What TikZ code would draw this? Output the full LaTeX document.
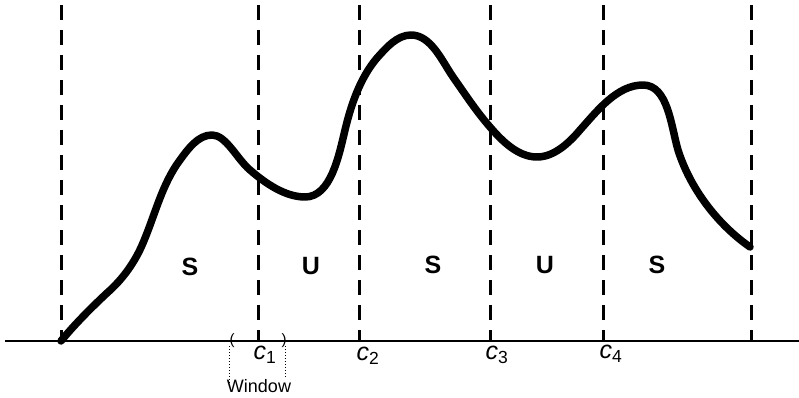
\documentclass[tikz,border=0pt]{standalone}
\usepackage{fontspec}
\setmainfont{Liberation Sans}
\begin{document}
\begin{tikzpicture}[x=1pt,y=-1pt,
  divider/.style={line width=3pt,dash pattern=on 15pt off 10pt},
  curve/.style={line width=7.5pt,line cap=round,line join=round},
  seg/.style={font=\fontsize{25}{25}\selectfont\bfseries},
  cut/.style={font=\fontsize{25}{25}\selectfont},
  winline/.style={line width=1pt,dotted}]
\useasboundingbox (0,0) rectangle (799,398);
\coordinate (a0) at (5,341);
\coordinate (a1) at (799,341);
\draw[line width=1.6pt] (a0) -- (a1);
\foreach \x/\n in {61/d0,258/d1,359/d2,490/d3,603/d4,751/d5}{
  \coordinate (\n t) at (\x,5);
  \coordinate (\n b) at (\x,341);
  \draw[divider] (\n t) -- (\n b);
}
\coordinate (p0) at (61,341);
\coordinate (p16) at (750,247);
\draw[curve] (p0)
  .. controls (75,324) and (91,308) .. (107,293)
  .. controls (123,279) and (135,262) .. (143,243)
  .. controls (155,215) and (162,184) .. (180,160)
  .. controls (188,149) and (198,135) .. (212,135)
  .. controls (226,135) and (237,159) .. (250,170)
  .. controls (265,183) and (285,197) .. (305,197)
  .. controls (331,197) and (339,155) .. (345,130)
  .. controls (351,105) and (360,78) .. (377,58)
  .. controls (386,48) and (397,35) .. (411,35)
  .. controls (431,35) and (442,61) .. (453,77)
  .. controls (465,94) and (476,111) .. (490,127)
  .. controls (502,141) and (518,157) .. (537,157)
  .. controls (554,157) and (569,143) .. (580,130)
  .. controls (597,111) and (617,85) .. (643,85)
  .. controls (668,85) and (671,126) .. (678,150)
  .. controls (690,188) and (717,224) .. (p16);
\node[seg] (s1) at (190,267) {S};
\node[seg] (u1) at (311,266) {U};
\node[seg] (s2) at (433,265) {S};
\node[seg] (u2) at (545,265) {U};
\node[seg] (s3) at (657,265) {S};
\node[cut] (c1) at (265,355) {\textit{c}\textsubscript{1}};
\node[cut] (c2) at (368,356) {\textit{c}\textsubscript{2}};
\node[cut] (c3) at (497,355) {\textit{c}\textsubscript{3}};
\node[cut] (c4) at (611,354) {\textit{c}\textsubscript{4}};
\node[font=\fontsize{18}{18}\selectfont] (win) at (259,386) {Window};
\node[font=\fontsize{15}{15}\selectfont] (lb) at (232,341) {(};
\node[font=\fontsize{15}{15}\selectfont] (rb) at (284,341) {)};
\coordinate (wl1) at (229,346);
\coordinate (wl2) at (229,383);
\coordinate (wr1) at (285,346);
\coordinate (wr2) at (285,377);
\draw[winline] (wl1) -- (wl2);
\draw[winline] (wr1) -- (wr2);
\end{tikzpicture}
\end{document}
